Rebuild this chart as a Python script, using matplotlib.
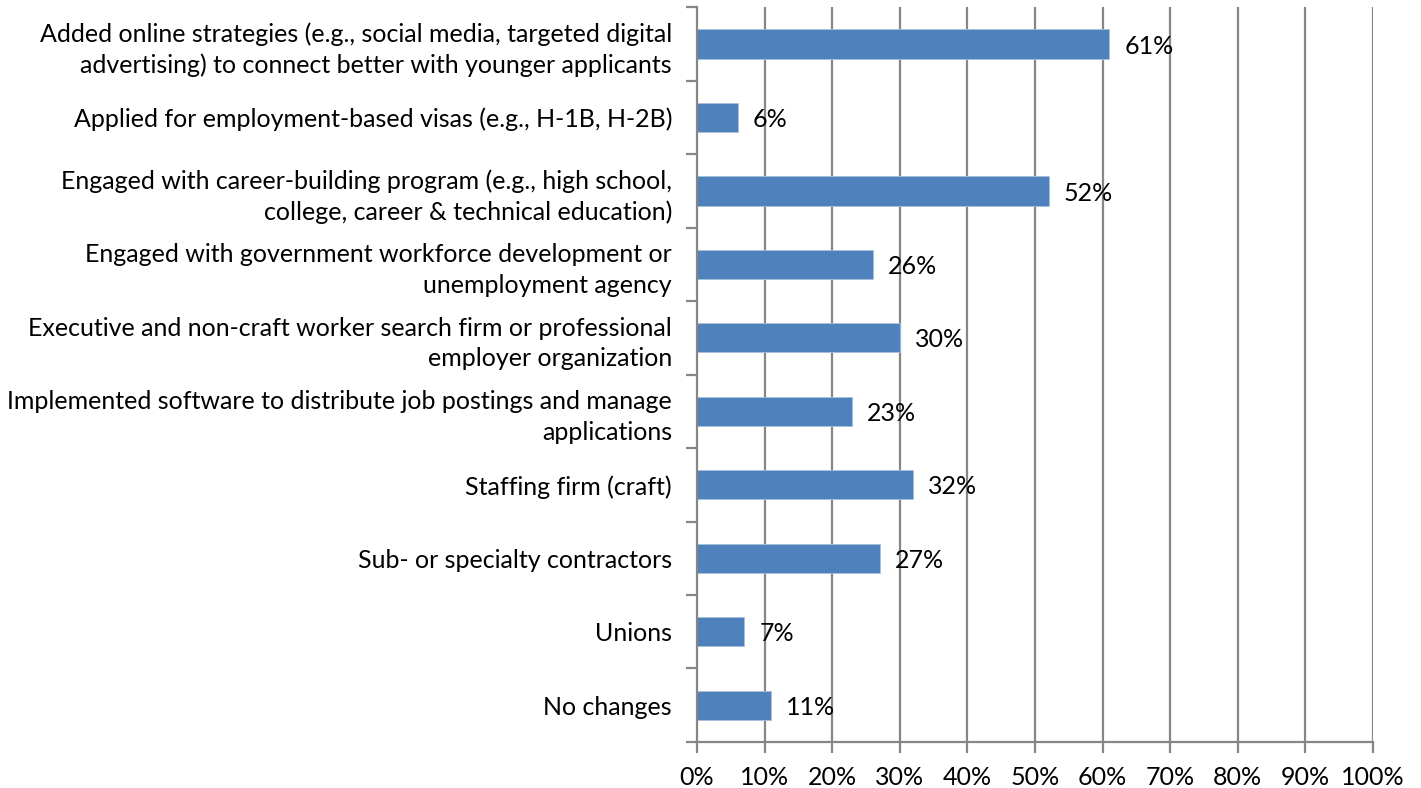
import matplotlib.pyplot as plt
import numpy as np

categories = [
    "Added online strategies (e.g., social media, targeted digital\nadvertising) to connect better with younger applicants",
    "Applied for employment-based visas (e.g., H-1B, H-2B)",
    "Engaged with career-building program (e.g., high school,\ncollege, career & technical education)",
    "Engaged with government workforce development or\nunemployment agency",
    "Executive and non-craft worker search firm or professional\nemployer organization",
    "Implemented software to distribute job postings and manage\napplications",
    "Staffing firm (craft)",
    "Sub- or specialty contractors",
    "Unions",
    "No changes",
]
values = [61, 6, 52, 26, 30, 23, 32, 27, 7, 11]
xticks = list(range(0, 101, 10))

plt.rcParams["font.family"] = ["Lato", "DejaVu Sans"]

fig = plt.figure(figsize=(14.21, 7.88), dpi=100)
ax = fig.add_axes([0.4905, 0.0584, 0.4757, 0.9326])

grid_color = "#868686"
fs = 18
n = len(categories)
y = np.arange(n)

ax.set_axisbelow(True)
for t in xticks[1:]:
    ax.axvline(t, color=grid_color, lw=1.6, zorder=0)

ax.barh(y, values, height=0.4, color="#4F81BD", edgecolor="#A7C0DE", linewidth=0.6, zorder=2)

for yi, v in zip(y, values):
    ax.text(v + 2.2, yi + 0.03, f"{v}%", va="center", ha="left", fontsize=fs, color="black", zorder=3)

ax.set_xlim(0, 100)
ax.set_ylim(n - 0.5, -0.5)
ax.set_xticks(xticks)
ax.set_xticklabels([f"{t}%" for t in xticks], fontsize=fs)

ax.set_yticks(y)
ax.set_yticklabels(categories, fontsize=fs, linespacing=1.4)
ax.set_yticks(np.arange(-0.5, n, 1), minor=True)
ax.tick_params(axis="y", which="major", length=0, pad=18)
ax.tick_params(axis="y", which="minor", length=8, width=1.6, color=grid_color, direction="out")
ax.tick_params(axis="x", length=8, width=1.6, color=grid_color, direction="out", pad=9)

for s in ["top", "right"]:
    ax.spines[s].set_visible(False)
for s in ["left", "bottom"]:
    ax.spines[s].set_color(grid_color)
    ax.spines[s].set_linewidth(1.6)

fig.savefig("out.png", dpi=100)
